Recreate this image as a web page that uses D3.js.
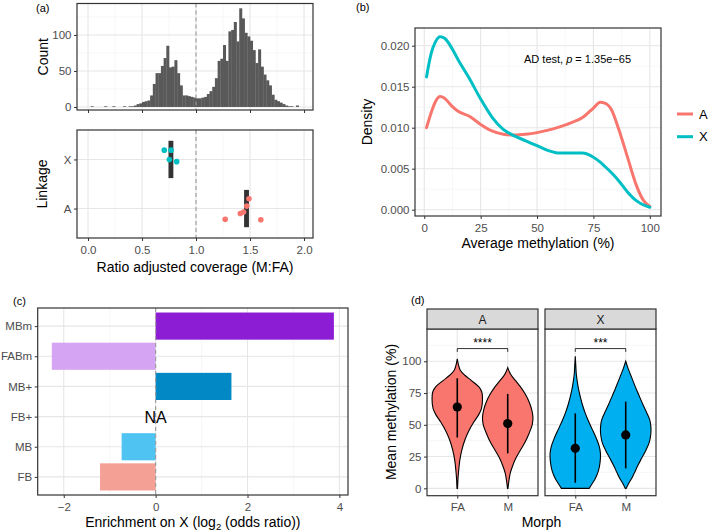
<!DOCTYPE html>
<html><head><meta charset="utf-8">
<script src="https://cdn.jsdelivr.net/npm/d3@7"></script>
<style>body{margin:0;background:#fff}</style>
</head><body><svg id="c" width="709" height="532" xmlns="http://www.w3.org/2000/svg"></svg>
<script>
// ================= DATA =================
// (a) histogram of ratio adjusted coverage
const histBinStart = 0.0, histBinWidth = 0.025;
const histCounts = [0,1,0,0,0,0,1,0,0,1, 0,0,0,1,0,1,1,2,4,5,
  7,8,9,16,32,47,47,57,68,85, 55,56,65,47,30,16,16,15,14,13,
  12,12,13,14,18,22,28,40,64,67, 86,64,105,107,118,91,137,123,103,98,
  92,79,61,80,56,45,37,30,17,10, 8,6,4,2,1,1,0,2,0,0];
const ratioTicks = [0, 0.5, 1.0, 1.5, 2.0];
const ratioMinor = [0.25, 0.75, 1.25, 1.75];
const countTicks = [0, 50, 100];
const countMinor = [25, 75, 125];
// (a) linkage points
const linkageCats = ["A", "X"];
const linkX_ratio = [0.706, 0.769, 0.753, 0.821];
const linkX_jitter = [0.19, 0.19, 0.0, -0.045];
const linkA_ratio = [1.27, 1.41, 1.44, 1.47, 1.49, 1.60];
const linkA_jitter = [-0.22, -0.10, -0.07, 0.05, 0.20, -0.23];
const linkBoxLo = {X: 0.745, A: 1.445};
const linkBoxHi = {X: 0.790, A: 1.490};

// (b) density of average methylation
const methX = [1,3,5,7,9,12,15,20,25,30,35,40,45,50,55,60,65,70,75,78,80,83,86,90,94,97,100];
const densA = [0.0100,0.0118,0.0132,0.0138,0.0136,0.0127,0.0120,0.0114,0.0104,0.0096,0.0092,0.0091,0.0092,0.0094,0.0097,0.0101,0.0106,0.0112,0.0124,0.0131,0.0130,0.0122,0.0100,0.0065,0.0030,0.0012,0.0004];
const densX = [0.0162,0.0190,0.0205,0.0211,0.0209,0.0198,0.0183,0.0160,0.0135,0.0113,0.0098,0.0090,0.0084,0.0078,0.0072,0.0069,0.0069,0.0069,0.0064,0.0058,0.0053,0.0045,0.0036,0.0022,0.0011,0.0006,0.0003];
const methTicks = [0, 25, 50, 75, 100];
const methMinor = [12.5, 37.5, 62.5, 87.5];
const densTicks = [0, 0.005, 0.010, 0.015, 0.020];
const densMinor = [0.0025, 0.0075, 0.0125, 0.0175];
const seriesNames = ["A", "X"];
const seriesColors = ["#F8766D", "#00BFC4"];

// (c) enrichment on X
const enrichCats = ["MBm", "FABm", "MB+", "FB+", "MB", "FB"];
const enrichVals = [3.88, -2.26, 1.65, null, -0.74, -1.21];
const enrichColors = ["#8D1DD5", "#D5A4F2", "#0388C6", null, "#4FC4F2", "#F5A095"];
const enrichTicks = [-2, 0, 2, 4];
const enrichMinor = [-1, 1, 3];

// (d) violins of mean methylation
const facets = ["A", "X"];
const morphs = ["FA", "M"];
const violinFill = {A: "#F8766D", X: "#00AFEF"};
// profiles: [methylation value, relative half width]
const violinProfiles = {
  "A|FA": [[0,0.01],[8,0.03],[15,0.06],[22,0.1],[30,0.18],[38,0.3],[45,0.45],[52,0.65],[58,0.85],[63,0.96],[70,1.0],[76,0.97],[80,0.85],[85,0.55],[89,0.3],[93,0.12],[97,0.05],[102,0]],
  "A|M":  [[0,0.01],[5,0.04],[12,0.1],[18,0.2],[24,0.33],[30,0.5],[36,0.68],[43,0.84],[50,0.97],[56,1.0],[62,0.95],[68,0.85],[74,0.7],[80,0.5],[85,0.3],[89,0.14],[92,0.06],[95,0]],
  "X|FA": [[0,0.55],[4,0.68],[8,0.8],[14,0.92],[20,0.98],[27,1.0],[33,0.95],[40,0.82],[47,0.66],[54,0.5],[60,0.38],[66,0.28],[72,0.2],[78,0.13],[84,0.08],[90,0.04],[97,0.02],[104,0]],
  "X|M":  [[0,0.02],[4,0.12],[8,0.24],[12,0.34],[18,0.48],[24,0.64],[30,0.8],[36,0.93],[42,0.99],[48,1.0],[54,0.95],[60,0.82],[66,0.68],[72,0.55],[78,0.42],[84,0.3],[89,0.2],[94,0.1],[100,0]]
};
const violinMean = {"A|FA": 64, "A|M": 51, "X|FA": 31.5, "X|M": 42};
const violinLo   = {"A|FA": 40, "A|M": 27.5, "X|FA": 4.4, "X|M": 15.7};
const violinHi   = {"A|FA": 86.6, "A|M": 74.3, "X|FA": 59, "X|M": 68.2};
const sigLabels = {A: "****", X: "***"};
const sigY = 110;
const methMeanTicks = [0, 25, 50, 75, 100];
const methMeanMinor = [12.5, 37.5, 62.5, 87.5, 112.5];

// ================= DRAWING =================
const FONT = '"Liberation Sans", Arial, Helvetica, sans-serif';
const TICK_COL = '#4D4D4D', BORDER = '#333333', GRID_MAJ = '#E6E6E6', GRID_MIN = '#F3F3F3';
const svg = d3.select('#c');
svg.append('rect').attr('width',709).attr('height',532).attr('fill','#fff');

function gridLines(g, box, vMaj, vMin, hMaj, hMin){
  const add = (vals, vertical, col, w) => {
    g.append('g').selectAll('line').data(vals).enter().append('line')
      .attr('x1', d => vertical ? d : box.l).attr('x2', d => vertical ? d : box.r)
      .attr('y1', d => vertical ? box.t : d).attr('y2', d => vertical ? box.b : d)
      .attr('stroke', col).attr('stroke-width', w);
  };
  add(vMin, true, GRID_MIN, 0.7); add(hMin, false, GRID_MIN, 0.7);
  add(vMaj, true, GRID_MAJ, 1.1); add(hMaj, false, GRID_MAJ, 1.1);
}
function border(g, box){
  g.append('rect').attr('x', box.l).attr('y', box.t).attr('width', box.r - box.l).attr('height', box.b - box.t)
    .attr('fill', 'none').attr('stroke', BORDER).attr('stroke-width', 1.2);
}
function styleAxis(sel){
  sel.select('.domain').remove();
  sel.selectAll('.tick line').attr('stroke', BORDER).attr('stroke-width', 1);
  sel.selectAll('.tick text').attr('fill', TICK_COL).attr('font-size', 11.5).attr('font-family', FONT);
}
function bottomAxis(g, scale, box, ticks, fmt, labels = true){
  const ax = d3.axisBottom(scale).tickValues(ticks).tickSize(3).tickPadding(4.5)
    .tickFormat(labels ? (fmt || (d => d)) : () => '');
  styleAxis(g.append('g').attr('transform', `translate(0,${box.b})`).call(ax));
}
function leftAxis(g, scale, box, ticks, fmt){
  const ax = d3.axisLeft(scale).tickValues(ticks).tickSize(3).tickPadding(2.5).tickFormat(fmt || (d => d));
  styleAxis(g.append('g').attr('transform', `translate(${box.l},0)`).call(ax));
}
function label(g, x, y, s, o = {}){
  const t = g.append('text').attr('x', x).attr('y', y).text(s)
    .attr('font-family', FONT).attr('font-size', o.size || 14).attr('fill', o.color || '#000')
    .attr('text-anchor', o.anchor || 'middle');
  if (o.rotate) t.attr('transform', `rotate(-90,${x},${y})`);
  return t;
}
function vline(g, x, box, col){
  g.append('line').attr('x1', x).attr('x2', x).attr('y1', box.t).attr('y2', box.b)
    .attr('stroke', col || '#999').attr('stroke-width', 1.1).attr('stroke-dasharray', '4,3');
}

// ---------- Panel (a) ----------
const gA = svg.append('g');
const xA = d3.scaleLinear().domain([-0.102, 2.083]).range([77, 313]);
const bA1 = {l: 77, r: 313, t: 3.5, b: 110};
const yH = d3.scaleLinear().domain([-4.2, 143.7]).range([110, 3.5]);
gridLines(gA, bA1, ratioTicks.map(xA), ratioMinor.map(xA), countTicks.map(yH), countMinor.map(yH));
gA.append('g').selectAll('rect').data(histCounts).enter().append('rect')
  .attr('x', (d, i) => xA(histBinStart + i * histBinWidth))
  .attr('width', xA(histBinWidth) - xA(0) + 0.3)
  .attr('y', d => yH(d)).attr('height', d => yH(0) - yH(d)).attr('fill', '#595959');
vline(gA, xA(1), bA1);
border(gA, bA1);
bottomAxis(gA, xA, bA1, ratioTicks, null, false);
leftAxis(gA, yH, bA1, countTicks);
label(gA, 48.3, (bA1.t + bA1.b) / 2, 'Count', {rotate: true});
label(gA, 36, 12, '(a)', {size: 11, anchor: 'start'});

const bA2 = {l: 77, r: 313, t: 130, b: 238};
const yL = d3.scalePoint().domain(linkageCats).range([bA2.b, bA2.t]).padding(0.6);
const stepL = yL.step();
gridLines(gA, bA2, ratioTicks.map(xA), ratioMinor.map(xA), linkageCats.map(yL), []);
vline(gA, xA(1), bA2);
["X", "A"].forEach(c => {
  gA.append('rect').attr('x', xA(linkBoxLo[c])).attr('width', xA(linkBoxHi[c]) - xA(linkBoxLo[c]))
    .attr('y', yL(c) - 0.38 * stepL).attr('height', 0.76 * stepL).attr('fill', '#333333');
});
gA.append('g').selectAll('circle').data(linkX_ratio).enter().append('circle')
  .attr('cx', d => xA(d)).attr('cy', (d, i) => yL('X') - linkX_jitter[i] * stepL).attr('r', 2.8)
  .attr('fill', seriesColors[1]);
gA.append('g').selectAll('circle').data(linkA_ratio).enter().append('circle')
  .attr('cx', d => xA(d)).attr('cy', (d, i) => yL('A') - linkA_jitter[i] * stepL).attr('r', 2.8)
  .attr('fill', seriesColors[0]);
border(gA, bA2);
bottomAxis(gA, xA, bA2, ratioTicks, d3.format('.1f'));
leftAxis(gA, yL, bA2, linkageCats);
label(gA, 46.5, (bA2.t + bA2.b) / 2, 'Linkage', {rotate: true});
label(gA, (bA2.l + bA2.r) / 2, 272, 'Ratio adjusted coverage (M:FA)');

// ---------- Panel (b) ----------
const gB = svg.append('g');
const bB = {l: 415, r: 661, t: 28, b: 216};
const xB = d3.scaleLinear().domain([-5, 105]).range([413, 661.1]);
const yB = d3.scaleLinear().domain([-0.00077, 0.02216]).range([216, 28]);
gridLines(gB, bB, methTicks.map(xB), methMinor.map(xB), densTicks.map(yB), densMinor.map(yB));
const lineB = vals => d3.line().x((d, i) => xB(methX[i])).y(d => yB(d)).curve(d3.curveMonotoneX)(vals);
[densA, densX].forEach((vals, k) => {
  gB.append('path').attr('d', lineB(vals)).attr('fill', 'none').attr('stroke', seriesColors[k])
    .attr('stroke-width', 3).attr('stroke-linecap', 'round');
});
border(gB, bB);
bottomAxis(gB, xB, bB, methTicks);
leftAxis(gB, yB, bB, densTicks, d3.format('.3f'));
label(gB, 372, (bB.t + bB.b) / 2, 'Density', {rotate: true});
label(gB, (bB.l + bB.r) / 2, 248, 'Average methylation (%)');
label(gB, 356, 11, '(b)', {size: 11, anchor: 'start'});
const ann = gB.append('text').attr('x', 524).attr('y', 63).attr('font-family', FONT).attr('font-size', 11).attr('fill', '#000');
ann.append('tspan').text('AD test, ');
ann.append('tspan').attr('font-style', 'italic').text('p');
ann.append('tspan').text(' = 1.35e\u221265');
seriesNames.forEach((s, k) => {
  const yy = 114 + k * 22.7;
  gB.append('line').attr('x1', 677).attr('x2', 693).attr('y1', yy).attr('y2', yy)
    .attr('stroke', seriesColors[k]).attr('stroke-width', 3);
  label(gB, 699, yy + 4.5, s, {size: 13, anchor: 'start'});
});

// ---------- Panel (c) ----------
const gC = svg.append('g');
const bC = {l: 37.7, r: 348, t: 308, b: 495};
const xC = d3.scaleLinear().domain([-2.567, 4.187]).range([bC.l, bC.r]);
const yC = d3.scalePoint().domain(enrichCats).range([bC.t, bC.b]).padding(0.6);
const stepC = yC.step();
gridLines(gC, bC, enrichTicks.map(xC), enrichMinor.map(xC), enrichCats.map(yC), []);
gC.append('g').selectAll('rect').data(enrichCats.filter((c, i) => enrichVals[i] !== null)).enter().append('rect')
  .attr('y', c => yC(c) - 0.45 * stepC).attr('height', 0.9 * stepC)
  .attr('x', c => xC(Math.min(0, enrichVals[enrichCats.indexOf(c)])))
  .attr('width', c => Math.abs(xC(enrichVals[enrichCats.indexOf(c)]) - xC(0)))
  .attr('fill', c => enrichColors[enrichCats.indexOf(c)]);
vline(gC, xC(0), bC, '#9a9a9a');
enrichCats.forEach((c, i) => {
  if (enrichVals[i] === null) label(gC, xC(0), yC(c) + 6, 'NA', {size: 16});
});
border(gC, bC);
bottomAxis(gC, xC, bC, enrichTicks, d => d < 0 ? '\u2212' + Math.abs(d) : d);
leftAxis(gC, yC, bC, enrichCats);
label(gC, 13, 305, '(c)', {size: 11, anchor: 'start'});
const tC = gC.append('text').attr('x', (bC.l + bC.r) / 2).attr('y', 527).attr('text-anchor', 'middle')
  .attr('font-family', FONT).attr('font-size', 14).attr('fill', '#000');
tC.append('tspan').text('Enrichment on X (log');
tC.append('tspan').attr('font-size', 9.5).attr('dy', 3).text('2');
tC.append('tspan').attr('dy', -3).text(' (odds ratio))');

// ---------- Panel (d) ----------
const gD = svg.append('g');
const facetBoxes = {A: {l: 427, r: 538, t: 329, b: 495.7}, X: {l: 545, r: 656, t: 329, b: 495.7}};
const yD = d3.scaleLinear().domain([-5.8, 125.4]).range([495.7, 329]);
facets.forEach(f => {
  const b = facetBoxes[f];
  const xD = d3.scalePoint().domain(morphs).range([b.l, b.r]).padding(0.6);
  const hw = 0.5 * xD.step();
  gridLines(gD, b, morphs.map(xD), [], methMeanTicks.map(yD), methMeanMinor.map(yD));
  morphs.forEach(m => {
    const key = f + '|' + m, cx = xD(m);
    const area = d3.area().y(d => yD(d[0])).x0(d => cx - hw * d[1]).x1(d => cx + hw * d[1]).curve(d3.curveCatmullRom);
    gD.append('path').attr('d', area(violinProfiles[key])).attr('fill', violinFill[f])
      .attr('stroke', '#000').attr('stroke-width', 1.1);
    gD.append('line').attr('x1', cx).attr('x2', cx).attr('y1', yD(violinLo[key])).attr('y2', yD(violinHi[key]))
      .attr('stroke', '#000').attr('stroke-width', 1.6);
    gD.append('circle').attr('cx', cx).attr('cy', yD(violinMean[key])).attr('r', 4.6).attr('fill', '#000');
  });
  // significance bracket
  const x1 = xD('FA'), x2 = xD('M');
  gD.append('path').attr('d', `M${x1},${yD(sigY - 2.6)}V${yD(sigY)}H${x2}V${yD(sigY - 2.6)}`)
    .attr('fill', 'none').attr('stroke', '#000').attr('stroke-width', 0.8);
  label(gD, (x1 + x2) / 2, 346.5, sigLabels[f], {size: 12});
  border(gD, b);
  bottomAxis(gD, xD, b, morphs);
  // strip
  gD.append('rect').attr('x', b.l).attr('y', 309).attr('width', b.r - b.l).attr('height', b.t - 309)
    .attr('fill', '#D9D9D9').attr('stroke', BORDER).attr('stroke-width', 1.2);
  label(gD, (b.l + b.r) / 2, 323.5, f, {size: 12, color: '#1A1A1A'});
});
leftAxis(gD, yD, facetBoxes.A, methMeanTicks);
label(gD, 395.5, 412, 'Mean methylation (%)', {rotate: true});
label(gD, (427 + 656) / 2, 527, 'Morph');
label(gD, 411, 304, '(d)', {size: 11, anchor: 'start'});
</script>
</body></html>
